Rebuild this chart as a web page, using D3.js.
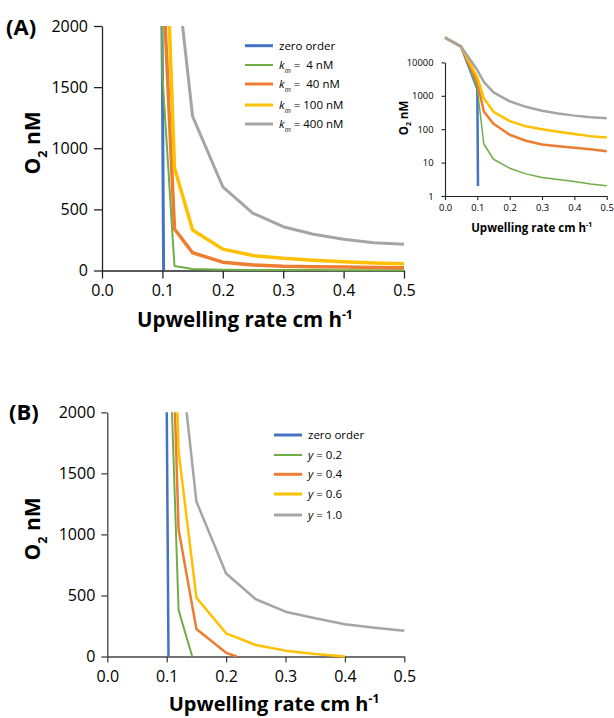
<!DOCTYPE html>
<html><head><meta charset="utf-8">
<script src="https://cdn.jsdelivr.net/npm/d3@7"></script>
<style>body{margin:0;background:#fff}svg{display:block}text{font-family:"Open Sans",sans-serif;fill:#000}</style>
</head><body><svg id="c" width="614" height="718"></svg>
<script>
// ---------- data ----------
const xTicks = [0, 0.1, 0.2, 0.3, 0.4, 0.5];
const yTicksLin = [0, 500, 1000, 1500, 2000];
const yTicksLog = [1, 10, 100, 1000, 10000];

// Panel A (upwelling rate, O2 nM)
const xA = [0, 0.05, 0.1, 0.12, 0.15, 0.2, 0.25, 0.3, 0.35, 0.4, 0.45, 0.5];
const xZeroA = [0, 0.05, 0.1, 0.102];
const zeroA = [55000, 29500, 1600, 2];
const km4 = [55000, 29500, 1600, 36, 12.6, 6.8, 4.6, 3.6, 3.1, 2.7, 2.3, 2.04];
const km40 = [55000, 29500, 2500, 340, 145, 68, 45, 35, 31, 28, 25, 22];
const km100 = [55000, 29500, 3600, 840, 331, 175, 122, 100, 84, 72, 62, 56];
const km400 = [55000, 29500, 5900, 2600, 1260, 685, 468, 358, 296, 255, 227, 214];
const legendA = ["zero order", "4 nM", "40 nM", "100 nM", "400 nM"];

// Panel B
const xZeroB = [0, 0.05, 0.1, 0.103];
const zeroB = [55000, 29500, 2100, 0];
const xY02 = [0, 0.05, 0.1, 0.12, 0.143];
const y02 = [55000, 29500, 3300, 380, 0];
const xY04 = [0, 0.05, 0.1, 0.12, 0.15, 0.2, 0.218];
const y04 = [55000, 29500, 4240, 1040, 225, 30, 0];
const xY06 = [0, 0.05, 0.1, 0.12, 0.15, 0.2, 0.25, 0.3, 0.35, 0.4];
const y06 = [55000, 29500, 5000, 1680, 482, 190, 94, 48, 20, 0];
const xY10 = [0, 0.05, 0.1, 0.12, 0.15, 0.2, 0.25, 0.3, 0.35, 0.4, 0.45, 0.5];
const y10 = [55000, 29500, 5900, 2600, 1269, 680, 469, 367, 313, 264, 236, 211];
const legendB = ["0.2", "0.4", "0.6", "1.0"];

const colors = ["#4472C4", "#70AD47", "#ED7D31", "#FFC000", "#A5A5A5"];

// ---------- helpers ----------
const svg = d3.select("#c");
const zip = (xs, ys) => xs.map((x, i) => [x, ys[i]]);

function drawAxes(g, x, y, o) {
  const ax = g.append("g").attr("transform", `translate(0,${o.y0})`)
    .call(d3.axisBottom(x).tickValues(xTicks).tickFormat(d3.format(".1f"))
      .tickSize(o.tx).tickSizeOuter(0).tickPadding(o.px));
  const ay = g.append("g").attr("transform", `translate(${o.x0},0)`)
    .call(d3.axisLeft(y).tickValues(o.yt).tickFormat(o.yf || d3.format("d"))
      .tickSize(o.ty).tickSizeOuter(0).tickPadding(o.py));
  [ax, ay].forEach(a => {
    a.select(".domain").attr("stroke", o.ac).attr("stroke-width", o.aw);
    a.selectAll(".tick line").attr("stroke", o.ac).attr("stroke-width", o.aw);
    a.selectAll("text").style("font-size", o.fs + "px").attr("fill", "#000");
  });
}

function ylabel(g, cx, cy, fs) {
  const t = g.append("text").attr("transform", `translate(${cx},${cy}) rotate(-90)`)
    .attr("text-anchor", "middle").attr("dy", "0.35em")
    .style("font-size", fs + "px").style("font-weight", "bold");
  t.append("tspan").text("O");
  t.append("tspan").text("2").style("font-size", (fs * 0.6) + "px").attr("dy", fs * 0.3);
  t.append("tspan").text(" nM").attr("dy", -fs * 0.3);
}
function xlabel(g, cx, cy, fs) {
  const t = g.append("text").attr("x", cx).attr("y", cy).attr("text-anchor", "middle")
    .attr("dy", "0.35em").style("font-size", fs + "px").style("font-weight", "bold");
  t.append("tspan").text("Upwelling rate cm h");
  t.append("tspan").text("-1").style("font-size", (fs * 0.6) + "px").attr("dy", -fs * 0.4);
}

// ---------- Panel A main ----------
const xa = d3.scaleLinear().domain([0, 0.5]).range([102, 404]);
const ya = d3.scaleLinear().domain([0, 2000]).range([270.5, 26]);
const gA = svg.append("g");
svg.append("clipPath").attr("id", "clipA").append("rect")
  .attr("x", 95).attr("y", 26).attr("width", 320).attr("height", 256);
drawAxes(gA, xa, ya, {y0: 270.5, x0: 102, tx: 8, ty: 8, px: 6, py: 6, yt: yTicksLin, ac: "#222", aw: 1.3, fs: 16});
const seriesA = [
  {d: zip(xZeroA, zeroA), w: 3},
  {d: zip(xA, km4), w: 2},
  {d: zip(xA, km40), w: 3.5},
  {d: zip(xA, km100), w: 3.5},
  {d: zip(xA, km400), w: 3}
];
const lineA = d3.line().x(d => xa(d[0])).y(d => ya(d[1]));
const pA = gA.append("g").attr("clip-path", "url(#clipA)");
seriesA.forEach((s, i) => pA.append("path").attr("d", lineA(s.d)).attr("fill", "none")
  .attr("stroke", colors[i]).attr("stroke-width", s.w).attr("stroke-linejoin", "round"));
ylabel(gA, 33, 143, 21);
xlabel(gA, 245, 320, 20.5);
gA.append("text").attr("x", 6).attr("y", 35).text("(A)").style("font-size", "22px").style("font-weight", "bold");

// legend A
const legYA = [45.7, 65, 84, 105, 124];
const legWA = [3, 2, 3, 3, 3];
legYA.forEach((yy, i) => {
  gA.append("line").attr("x1", 245).attr("x2", 273).attr("y1", yy).attr("y2", yy)
    .attr("stroke", colors[i]).attr("stroke-width", legWA[i]);
  const t = gA.append("text").attr("x", 279).attr("y", yy).attr("dy", "0.35em").style("font-size", "11.5px");
  if (i === 0) { t.text(legendA[0]); }
  else {
    t.append("tspan").text("k").style("font-style", "italic");
    t.append("tspan").text("m").style("font-style", "italic").style("font-size", "7px").attr("dy", 4);
    t.append("tspan").text(" = " + (legendA[i].length < 6 ? "\u00a0" : "") + legendA[i]).attr("dy", -4);
  }
});

// ---------- Inset (log) ----------
const xi = d3.scaleLinear().domain([0, 0.5]).range([445, 606.7]);
const yi = d3.scaleLog().domain([1, 10000]).range([196, 62.4]);
const gI = svg.append("g");
drawAxes(gI, xi, yi, {y0: 196, x0: 445, tx: 4, ty: 3.5, px: 4, py: 8, yt: yTicksLog, yf: d3.format("d"), ac: "#222", aw: 1.1, fs: 9.4});
const lineI = d3.line().x(d => xi(d[0])).y(d => yi(Math.max(d[1], 1)));
const insetW = [2.5, 1.5, 2.5, 2.5, 2.5];
seriesA.forEach((s, i) => gI.append("path").attr("d", lineI(s.d)).attr("fill", "none")
  .attr("stroke", colors[i]).attr("stroke-width", insetW[i]).attr("stroke-linejoin", "round"));
ylabel(gI, 404, 118, 11.5);
xlabel(gI, 531.7, 228, 11.5);

// ---------- Panel B ----------
const xb = d3.scaleLinear().domain([0, 0.5]).range([107.3, 404.3]);
const yb = d3.scaleLinear().domain([0, 2000]).range([656.5, 412.3]);
const gB = svg.append("g");
svg.append("clipPath").attr("id", "clipB").append("rect")
  .attr("x", 100).attr("y", 412.3).attr("width", 315).attr("height", 256);
drawAxes(gB, xb, yb, {y0: 656.5, x0: 107.3, tx: 6, ty: 6, px: 8, py: 6, yt: yTicksLin, ac: "#444", aw: 1.3, fs: 16});
const seriesB = [
  {d: zip(xZeroB, zeroB), w: 2.5},
  {d: zip(xY02, y02), w: 2},
  {d: zip(xY04, y04), w: 2.5},
  {d: zip(xY06, y06), w: 2.5},
  {d: zip(xY10, y10), w: 2.5}
];
const lineB = d3.line().x(d => xb(d[0])).y(d => yb(d[1]));
const pB = gB.append("g").attr("clip-path", "url(#clipB)");
seriesB.forEach((s, i) => pB.append("path").attr("d", lineB(s.d)).attr("fill", "none")
  .attr("stroke", colors[i]).attr("stroke-width", s.w).attr("stroke-linejoin", "round"));
ylabel(gB, 33, 529, 21);
xlabel(gB, 274, 703.5, 20);
gB.append("text").attr("x", 9).attr("y", 420).text("(B)").style("font-size", "22px").style("font-weight", "bold");

// legend B
const legYB = [435, 455, 474.3, 494, 515];
legYB.forEach((yy, i) => {
  gB.append("line").attr("x1", 274).attr("x2", 302).attr("y1", yy).attr("y2", yy)
    .attr("stroke", colors[i]).attr("stroke-width", i === 1 ? 2 : 3);
  const t = gB.append("text").attr("x", 308).attr("y", yy).attr("dy", "0.35em").style("font-size", "11.5px");
  if (i === 0) { t.text("zero order"); }
  else {
    t.append("tspan").text("y").style("font-style", "italic");
    t.append("tspan").text(" = " + legendB[i - 1]);
  }
});
</script></body></html>
